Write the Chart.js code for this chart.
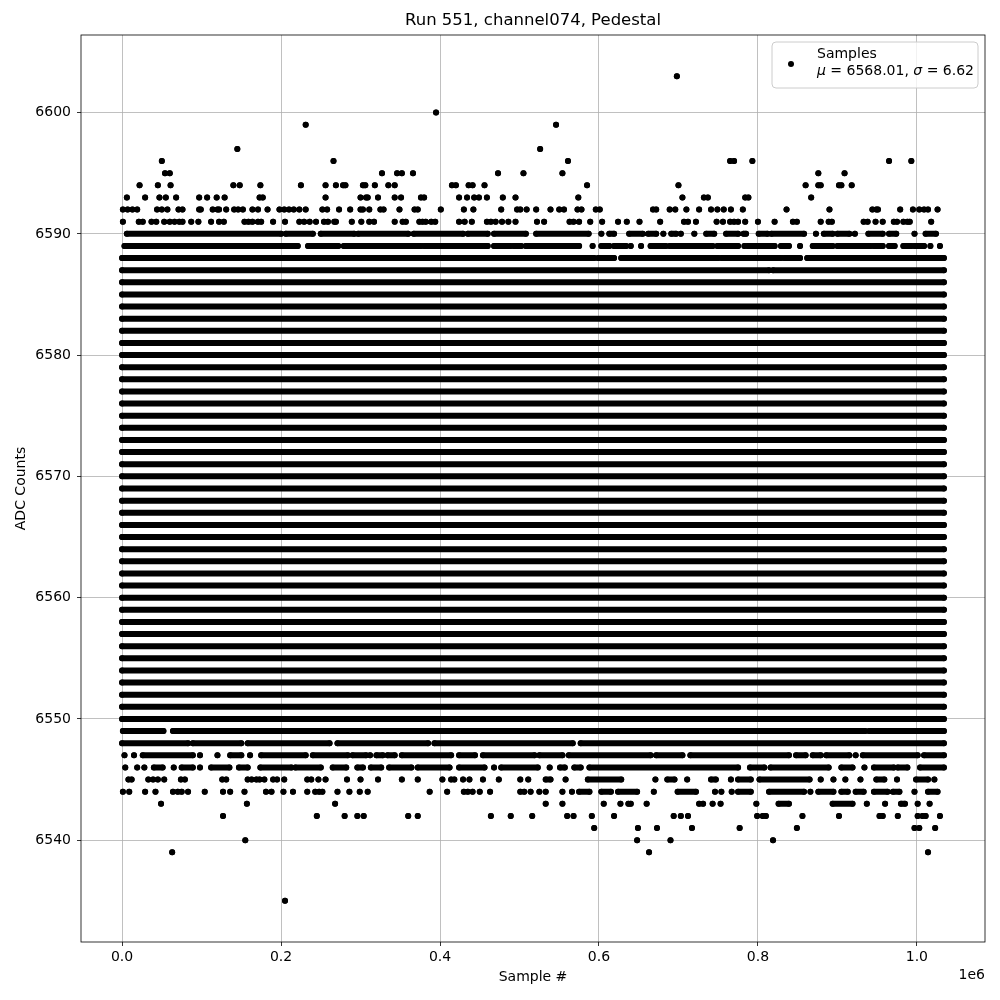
<!DOCTYPE html>
<html>
<head>
<meta charset="utf-8">
<script src="https://cdn.jsdelivr.net/npm/chart.js@4.4.0/dist/chart.umd.min.js"></script>
<style>
  html, body { margin: 0; padding: 0; background: #fff; }
  #wrap { width: 1000px; height: 1000px; }
</style>
</head>
<body>
<div id="wrap"><canvas id="adcChart" width="1000" height="1000"></canvas></div>
<script>
// x values are in thousands of samples; a number is one sample, [a, b] is a dense run
const sampleCountK = 1034;
const xTicksK = [0, 200, 400, 600, 800, 1000];
const yTicks = [6540, 6550, 6560, 6570, 6580, 6590, 6600];

// levels filled across the whole run
const solidLevels = [6550, 6551, 6552, 6553, 6554, 6555, 6556, 6557, 6558, 6559, 6560,
  6561, 6562, 6563, 6564, 6565, 6566, 6567, 6568, 6569, 6570, 6571, 6572, 6573, 6574,
  6575, 6576, 6577, 6578, 6579, 6580, 6581, 6582, 6583, 6584, 6585, 6586];

const row6603 = [698];
const row6600 = [395];
const row6599 = [231, 546];
const row6597 = [145, 526];
const row6596 = [50, 266, 561, 765, 770, 793, 965, 993];
const row6595 = [54, 60, 327, 346, 352, 366, 473, 505, 554, 876, 909];
const row6594 = [22, 45, 61, 140, 148, 174, 225, 256, 269, 278, 281, 303, 306, 318, 335, 343,
  415, 420, 436, 441, 456, 585, 700, 860, 876, 879, 902, 905, 918];
const row6593 = [6, 29, 47, 55, 68, 97, 107, 119, 129, 173, 177, 256, 300, 307, 309, 322, 343,
  351, 376, 380, 424, 434, 443, 449, 459, 479, 495, 574, 705, 732, 737, 784, 788, 867];
const row6592 = [1, 7, 13, 19, 44, 50, 57, 71, 76, 97, 99, 114, 120, 122, 131, 141, 146, 152,
  164, 171, 183, 198, 204, 210, 216, 223, 231, 252, 258, 273, 287, 300, 303, 311, 325, 329, 349,
  368, 372, 401, 430, 442, 477, 497, 501, 509, 521, 539, 550, 556, 573, 578, 596, 601, 668, 672,
  689, 696, 710, 726, 741, 749, 757, 766, 781, 836, 890, 944, 949, 951, 979, 995, 1003, 1009,
  1014, 1026];
const row6591 = [1, 21, 26, 37, 43, 53, 60, 66, 72, 76, 87, 96, 112, 122, 128, 154, 159, 164,
  171, 175, 190, 205, 223, 229, 236, 244, 254, 259, 267, 269, 289, 301, 311, 317, 343, 353, 357,
  374, 378, 382, 389, 394, 424, 431, 440, 459, 464, 470, 478, 486, 495, 522, 531, 563, 568, 575,
  589, 604, 624, 635, 651, 677, 707, 712, 722, 748, 756, 765, 770, 775, 784, 800, 821, 844, 849,
  879, 889, 893, 933, 938, 948, 957, 971, 975, 983, 988, 991, 1018];
const row6590 = [[6, 200], [206, 240], [250, 292], [297, 360], [367, 429], [435, 460], [468, 508],
  [521, 587], 603, [613, 619], [638, 655], [662, 672], 681, [691, 697], 703, 720, [735, 745],
  [760, 775], [782, 785], [801, 812], [817, 858], 873, [883, 894], [900, 915], 922, [939, 957],
  [965, 974], 997, [1011, 1024]];
const row6589 = [[3, 221], [234, 272], [279, 376], [380, 460], [468, 489], [493, 502], [508, 575],
  592, [603, 613], [619, 634], 640, 653, [665, 684], [689, 743], [749, 775], 783, [787, 821],
  [829, 839], 853, [869, 894], [900, 942], [946, 957], [965, 972], [983, 993], [997, 1009], 1017, 1029];
const row6588 = [[0, 594], [599, 619], [628, 750], [754, 829], [833, 853], [862, 1034]];
const row6587 = [[0, 814], [819, 1034]];

const row6549 = [[1, 52], [64, 935], [940, 1034]];
const row6548 = [[0, 83], [89, 150], [158, 261], [271, 385], [393, 567], [577, 1034]];
const row6547 = [3, 15, [26, 89], 98, 120, [136, 150], 161, [175, 231], [240, 284], [290, 307], 312,
  [320, 328], [334, 343], [352, 414], [424, 444], [454, 519], [525, 554], [562, 665], [672, 705],
  [715, 839], [848, 860], [869, 879], [886, 915], 923, [932, 1001], [1009, 1034]];
const row6546 = [4, 19, 28, [40, 51], 65, [75, 89], 98, [112, 135], [147, 158], [174, 213],
  [218, 250], [265, 282], [296, 303], [313, 326], [336, 364], [372, 412], [424, 456], 468,
  [477, 523], 538, [551, 557], [569, 577], [588, 775], [790, 808], [816, 889], [905, 919], 934,
  [946, 971], [976, 988], [1004, 1034]];
const row6545 = [8, 12, 33, 39, 45, 53, 74, 79, 126, 131, 158, 163, 169, 173, 179, 190, 195, 204,
  233, 238, 247, 256, 283, 300, 322, 352, 372, 403, 414, 418, 429, 437, 454, 474, 501, 511,
  [533, 539], 558, [586, 628], 671, [686, 695], 711, [741, 747], 766, [775, 791], [802, 865], 879,
  895, 910, 929, [949, 959], 975, [999, 1014], 1022];
const row6544 = [1, 9, 29, 42, 64, 70, 75, 83, 104, 127, 136, 154, 181, 188, 203, 215, 233, 243,
  248, 252, 271, 286, 299, 309, 387, 409, 430, 435, 441, 450, 463, 501, 506, 514, 525, 533, 554,
  566, [575, 588], [603, 615], [624, 648], 669, [699, 722], 746, 754, 767, [775, 791], [814, 858],
  866, [876, 895], [905, 913], [923, 933], [946, 963], [970, 978], 997, [1014, 1026]];
const row6543 = [49, 157, 268, 533, 554, 606, 627, 637, 640, 660, 726, 731, 743, 753, 798,
  [826, 839], [894, 919], 937, 960, [980, 985], 1001, 1016];
const row6542 = [127, 245, 280, 296, 304, 360, 372, 464, 489, 516, 560, 568, 591, 619, 694, 703,
  712, 799, 806, 810, 856, 902, 953, 957, 976, 1001, 1007, 1011, 1029];
const row6541 = [594, 649, 673, 717, 777, 849, 997, 1003, 1023];
const row6540 = [155, 648, 690, 819];
const row6539 = [63, 663, 1014];
const row6535 = [205];

const rows = [
  [6603, row6603], [6600, row6600], [6599, row6599], [6597, row6597], [6596, row6596],
  [6595, row6595], [6594, row6594], [6593, row6593], [6592, row6592], [6591, row6591],
  [6590, row6590], [6589, row6589], [6588, row6588], [6587, row6587],
  [6549, row6549], [6548, row6548], [6547, row6547], [6546, row6546], [6545, row6545],
  [6544, row6544], [6543, row6543], [6542, row6542], [6541, row6541], [6540, row6540],
  [6539, row6539], [6535, row6535]
];
solidLevels.forEach(level => rows.push([level, [[0, sampleCountK]]]));

// turn runs into one scatter series, broken by null points
const points = [];
rows.forEach(([level, items]) => {
  items.forEach(item => {
    if (Array.isArray(item)) {
      points.push({ x: item[0], y: level });
      points.push({ x: item[1], y: level });
    } else {
      points.push({ x: item, y: level });
    }
    points.push({ x: Array.isArray(item) ? item[1] : item, y: null });
  });
});

const xMin = -0.05 * sampleCountK;
const xMax = sampleCountK * 1.05;
const yMin = 6535 - 0.05 * (6603 - 6535);
const yMax = 6603 + 0.05 * (6603 - 6535);

const font = "'DejaVu Sans', sans-serif";

// title, axis labels, frame and legend drawn the way matplotlib lays them out
const decorations = {
  id: 'decorations',
  afterDatasetsDraw(chart) {
    const ctx = chart.ctx;
    const a = chart.chartArea;
    ctx.save();
    ctx.strokeStyle = '#000';
    ctx.lineWidth = 0.8;
    ctx.strokeRect(a.left, a.top, a.right - a.left, a.bottom - a.top);
    ctx.restore();
  },
  afterDraw(chart) {
    const ctx = chart.ctx;
    const a = chart.chartArea;
    const cx = (a.left + a.right) / 2;
    ctx.save();
    ctx.fillStyle = '#000';
    ctx.textBaseline = 'middle';

    ctx.font = `16.5px ${font}`;
    ctx.textAlign = 'center';
    ctx.fillText('Run 551, channel074, Pedestal', cx, 21);

    ctx.font = `14px ${font}`;
    ctx.fillText('Sample #', cx, 977);
    ctx.textAlign = 'right';
    ctx.fillText('1e6', a.right, 975);

    ctx.save();
    ctx.translate(21, (a.top + a.bottom) / 2);
    ctx.rotate(-Math.PI / 2);
    ctx.textAlign = 'center';
    ctx.fillText('ADC Counts', 0, 0);
    ctx.restore();

    // legend box
    const lx = 772, ly = 42, lw = 206, lh = 46, r = 4;
    ctx.beginPath();
    ctx.moveTo(lx + r, ly);
    ctx.arcTo(lx + lw, ly, lx + lw, ly + lh, r);
    ctx.arcTo(lx + lw, ly + lh, lx, ly + lh, r);
    ctx.arcTo(lx, ly + lh, lx, ly, r);
    ctx.arcTo(lx, ly, lx + lw, ly, r);
    ctx.closePath();
    ctx.fillStyle = 'rgba(255,255,255,0.8)';
    ctx.fill();
    ctx.strokeStyle = '#cccccc';
    ctx.lineWidth = 1;
    ctx.stroke();

    ctx.fillStyle = '#000';
    ctx.beginPath();
    ctx.arc(791, 64, 3, 0, Math.PI * 2);
    ctx.fill();

    ctx.textAlign = 'left';
    ctx.font = `14px ${font}`;
    ctx.fillText('Samples', 817, 54);
    let tx = 817;
    const parts = [['\u03bc', true], [' = 6568.01, ', false], ['\u03c3', true], [' = 6.62', false]];
    parts.forEach(([txt, italic]) => {
      ctx.font = `${italic ? 'italic ' : ''}14px ${font}`;
      ctx.fillText(txt, tx, 71);
      tx += ctx.measureText(txt).width;
    });
    ctx.restore();
  }
};

new Chart(document.getElementById('adcChart'), {
  type: 'scatter',
  data: {
    datasets: [{
      label: 'Samples',
      data: points,
      showLine: true,
      spanGaps: false,
      borderColor: '#000',
      borderWidth: 6,
      borderCapStyle: 'round',
      backgroundColor: '#000',
      pointRadius: 3,
      pointBorderWidth: 0,
      pointBackgroundColor: '#000'
    }]
  },
  options: {
    responsive: false,
    animation: false,
    events: [],
    layout: { padding: { top: 35, right: 15, left: 0, bottom: 0 } },
    plugins: { legend: { display: false }, tooltip: { enabled: false } },
    scales: {
      x: {
        type: 'linear',
        min: xMin,
        max: xMax,
        afterBuildTicks: scale => { scale.ticks = xTicksK.map(v => ({ value: v })); },
        afterFit: scale => { scale.height = 58; },
        ticks: {
          color: '#000',
          font: { family: font, size: 14 },
          padding: 3,
          maxRotation: 0,
          callback: v => (v / 1000).toFixed(1)
        },
        grid: { color: '#b0b0b0', lineWidth: 0.8, tickColor: '#000', tickLength: 4 },
        border: { display: false }
      },
      y: {
        type: 'linear',
        min: yMin,
        max: yMax,
        afterBuildTicks: scale => { scale.ticks = yTicks.map(v => ({ value: v })); },
        afterFit: scale => { scale.width = 81; },
        ticks: {
          color: '#000',
          font: { family: font, size: 14 },
          padding: 6,
          callback: v => String(v)
        },
        grid: { color: '#b0b0b0', lineWidth: 0.8, tickColor: '#000', tickLength: 4 },
        border: { display: false }
      }
    }
  },
  plugins: [decorations]
});
</script>
</body>
</html>
